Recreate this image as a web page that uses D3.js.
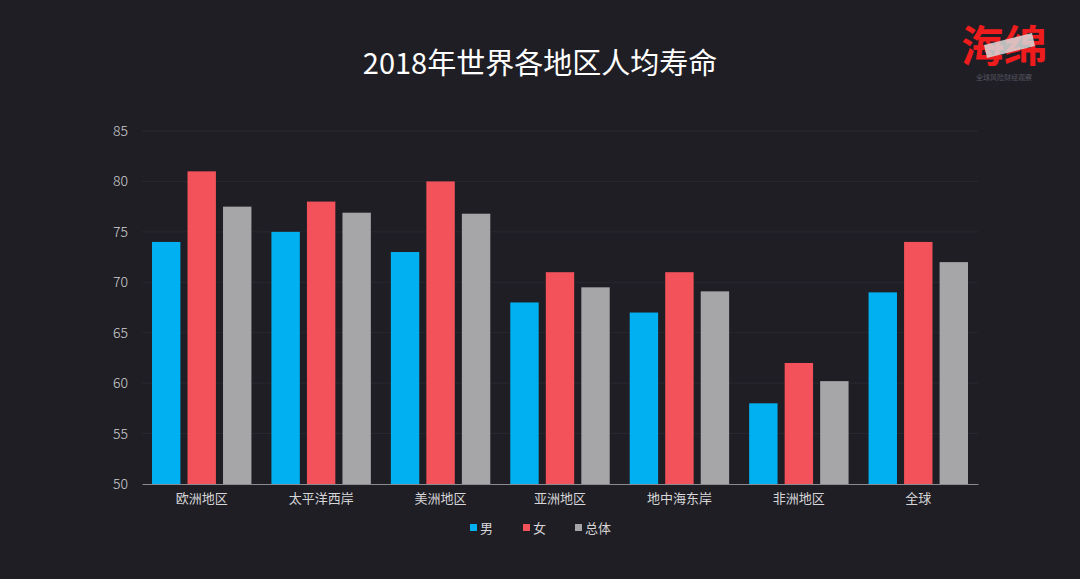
<!DOCTYPE html>
<html><head><meta charset="utf-8">
<script src="https://cdn.jsdelivr.net/npm/d3@7"></script>
<style>
html,body{margin:0;padding:0;background:#1f1e25;}
svg{display:block;}
text{font-family:"Noto Sans CJK SC","Noto Sans",sans-serif;}
</style></head>
<body>
<svg id="c" width="1080" height="579"></svg>
<script>
const categories = ["欧洲地区","太平洋西岸","美洲地区","亚洲地区","地中海东岸","非洲地区","全球"];
const seriesNames = ["男","女","总体"];
const male   = [74, 75, 73, 68, 67, 58, 69];
const female = [81, 78, 80, 71, 71, 62, 74];
const total  = [77.5, 76.9, 76.8, 69.5, 69.1, 60.2, 72];
const yTicks = [50,55,60,65,70,75,80,85];
const colors = ["#00b0f0","#f4525b","#a6a6a8"];

(function(){
const svg = d3.select("#c");
svg.append("rect").attr("width",1080).attr("height",579).attr("fill","#1f1e25");

const pL=142, pR=978, pT=131, pB=484;
const x0 = d3.scaleBand().domain(categories).range([pL,pR]).paddingInner(0).paddingOuter(0);
const x1 = d3.scaleBand().domain(seriesNames).range([10, x0.bandwidth()-10]).paddingInner(0.2).paddingOuter(0);
const y = d3.scaleLinear().domain([50,85]).range([pB,pT]);

svg.append("g").selectAll("line").data(yTicks.slice(1)).join("line")
  .attr("x1",pL).attr("x2",pR)
  .attr("y1",d=>y(d)).attr("y2",d=>y(d))
  .attr("stroke","#29282f").attr("stroke-width",1);

const yAxis = d3.axisLeft(y).tickValues(yTicks).tickSize(0).tickPadding(0);
const ya = svg.append("g").attr("transform",`translate(128,0)`).call(yAxis);
ya.select(".domain").remove();
ya.selectAll("text").attr("fill","#cfcfd2").attr("font-size",14).attr("font-family","Roboto,'Noto Sans',sans-serif").attr("font-weight",300);

const data = [male,female,total];
const g = svg.append("g");
categories.forEach((c,i)=>{
  seriesNames.forEach((s,j)=>{
    g.append("rect")
      .attr("x", x0(c)+x1(s))
      .attr("y", y(data[j][i]))
      .attr("width", x1.bandwidth())
      .attr("height", y(50)-y(data[j][i]))
      .attr("fill", colors[j]);
  });
});

const xAxis = d3.axisBottom(x0).tickSize(0).tickPadding(10);
const xa = svg.append("g").attr("transform",`translate(0,${pB})`).call(xAxis);
xa.select(".domain").attr("stroke","#8a8a90").attr("stroke-width",1.2);
xa.selectAll("text").attr("fill","#d6d6d8").attr("font-size",13).attr("font-family","'Noto Sans CJK SC',sans-serif");

svg.append("text").attr("x",540).attr("y",74).attr("text-anchor","middle")
  .attr("fill","#ffffff").attr("font-size",29).text("2018年世界各地区人均寿命");

const lx=[470,523,575];
seriesNames.forEach((s,j)=>{
  svg.append("rect").attr("x",lx[j]).attr("y",524).attr("width",7).attr("height",7).attr("fill",colors[j]);
  svg.append("text").attr("x",lx[j]+10).attr("y",533).attr("fill","#d6d6d8").attr("font-size",13).text(s);
});

const logo = svg.append("g");
logo.append("text").attr("x",1004).attr("y",62).attr("text-anchor","middle")
  .attr("fill","#ee1c1c").attr("font-size",43).attr("font-weight","bold").text("海绵");
logo.append("polygon").attr("points","984,45 1032,33 1035,46 987,58").attr("fill","#d8d8d8").attr("opacity",0.85);
logo.append("text").attr("x",1004).attr("y",80).attr("text-anchor","middle")
  .attr("fill","#555560").attr("font-size",7).text("全球风险财经观察");
})();
</script>
</body></html>
